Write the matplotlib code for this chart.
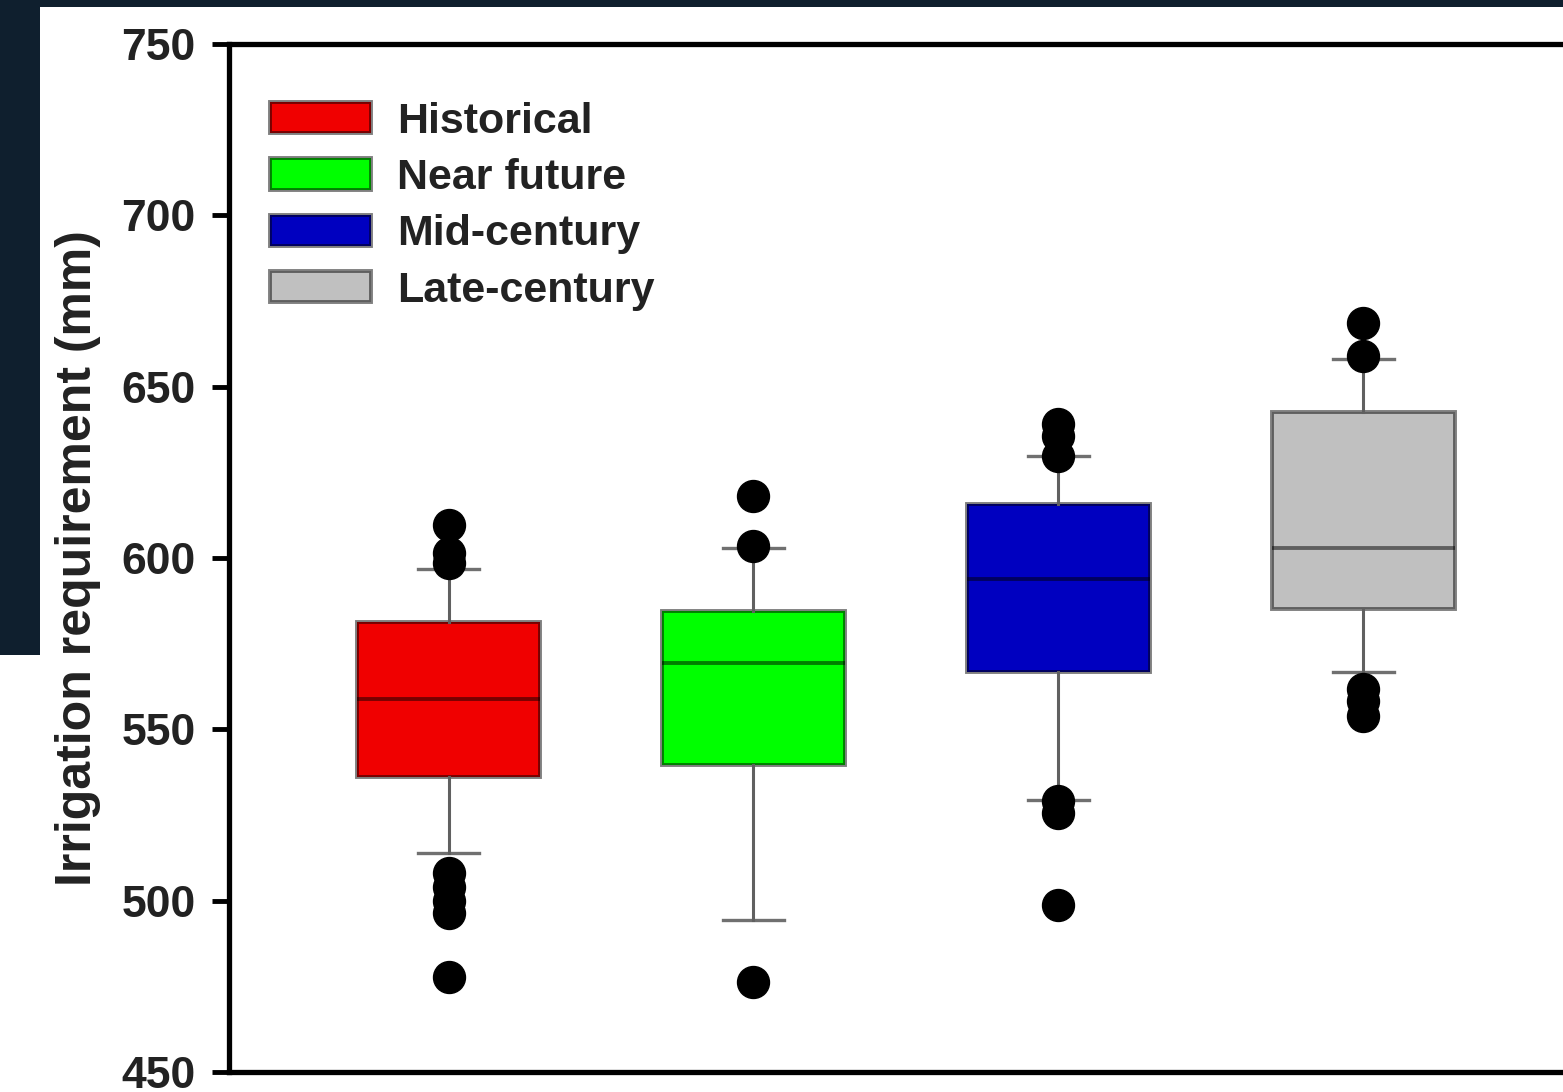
import matplotlib
matplotlib.use("Agg")
import matplotlib.pyplot as plt
from matplotlib.patches import Rectangle, Patch

# ---- data ----
categories = ["Historical", "Near future", "Mid-century", "Late-century"]
colors = ["#f00000", "#00ff00", "#0000c0", "#c0c0c0"]
q1 = [536.0, 539.5, 566.7, 585.1]
medians = [558.8, 569.3, 593.9, 603.0]
q3 = [581.3, 584.5, 615.8, 642.7]
whisker_low = [514.0, 494.4, 529.5, 566.7]
whisker_high = [596.8, 602.9, 629.8, 658.2]
fliers = [
    [609.6, 601.5, 598.5, 508.0, 504.0, 500.0, 496.5, 477.8],
    [618.1, 603.5, 476.3],
    [639.2, 635.7, 629.8, 529.0, 525.6, 498.8],
    [668.7, 659.0, 561.7, 558.2, 553.8],
]
yticks = [450, 500, 550, 600, 650, 700, 750]
ylabel = "Irrigation requirement (mm)"

plt.rcParams['font.family'] = ['Liberation Sans', 'DejaVu Sans']

W, H = 1563, 1092
fig = plt.figure(figsize=(W / 100, H / 100), dpi=100, facecolor="white")

# dark page background visible behind the cropped chart
bg = "#0f1f2e"
fig.patches.append(Rectangle((0, 1 - 7 / H), 1, 7 / H, transform=fig.transFigure,
                             facecolor=bg, edgecolor="none", zorder=0))
fig.patches.append(Rectangle((0, 1 - 655 / H), 40 / W, 655 / H, transform=fig.transFigure,
                             facecolor=bg, edgecolor="none", zorder=0))

left_px, right_px, top_px, bot_px = 229, 1592, 44, 1072
ax = fig.add_axes([left_px / W, 1 - bot_px / H, (right_px - left_px) / W, (bot_px - top_px) / H])
ax.set_facecolor("white")

stats = []
for i in range(len(categories)):
    stats.append(dict(med=medians[i], q1=q1[i], q3=q3[i],
                      whislo=whisker_low[i], whishi=whisker_high[i],
                      fliers=fliers[i], label=categories[i]))

edge = (0, 0, 0, 0.5)
positions = list(range(1, len(categories) + 1))
bp = ax.bxp(stats, positions=positions, widths=0.6, patch_artist=True,
            capwidths=0.2, showfliers=True,
            boxprops=dict(edgecolor=edge, linewidth=2.8),
            medianprops=dict(color=edge, linewidth=2.8),
            whiskerprops=dict(color="#606060", linewidth=2.2),
            capprops=dict(color="#707070", linewidth=2.4),
            flierprops=dict(marker="o", markerfacecolor="black", markeredgecolor="black",
                            markersize=23, linestyle="none"))
for patch, c in zip(bp["boxes"], colors):
    patch.set_facecolor(c)
for cap in bp["caps"]:
    cap.set_zorder(1.5)

ax.set_xlim(0.28, 4.75)
ax.set_ylim(450, 750)
ax.set_xticks([])
ax.set_yticks(yticks)
ax.set_yticklabels([str(t) for t in yticks], fontsize=32, fontweight="bold", color="#222222")
ax.tick_params(axis="y", direction="out", length=12, width=3.5, pad=12, color="black")

for s in ["left", "top", "bottom", "right"]:
    ax.spines[s].set_linewidth(3.8)
    ax.spines[s].set_color("black")

ax.set_ylabel(ylabel, fontsize=36, fontweight="bold", color="#222222")
ax.yaxis.set_label_coords(-0.094, 0.5)

handles = [Patch(facecolor=c, edgecolor=edge, linewidth=2.8) for c in colors]
ax.legend(handles, categories, loc="upper left", bbox_to_anchor=(0.030, 0.944),
          frameon=False, prop=dict(family="Liberation Sans", weight="bold", size=31),
          handlelength=2.35, handleheight=0.74, handletextpad=0.6, labelspacing=0.38,
          borderaxespad=0, borderpad=0, labelcolor="#222222")

fig.savefig("out.png", dpi=100, facecolor=fig.get_facecolor())
